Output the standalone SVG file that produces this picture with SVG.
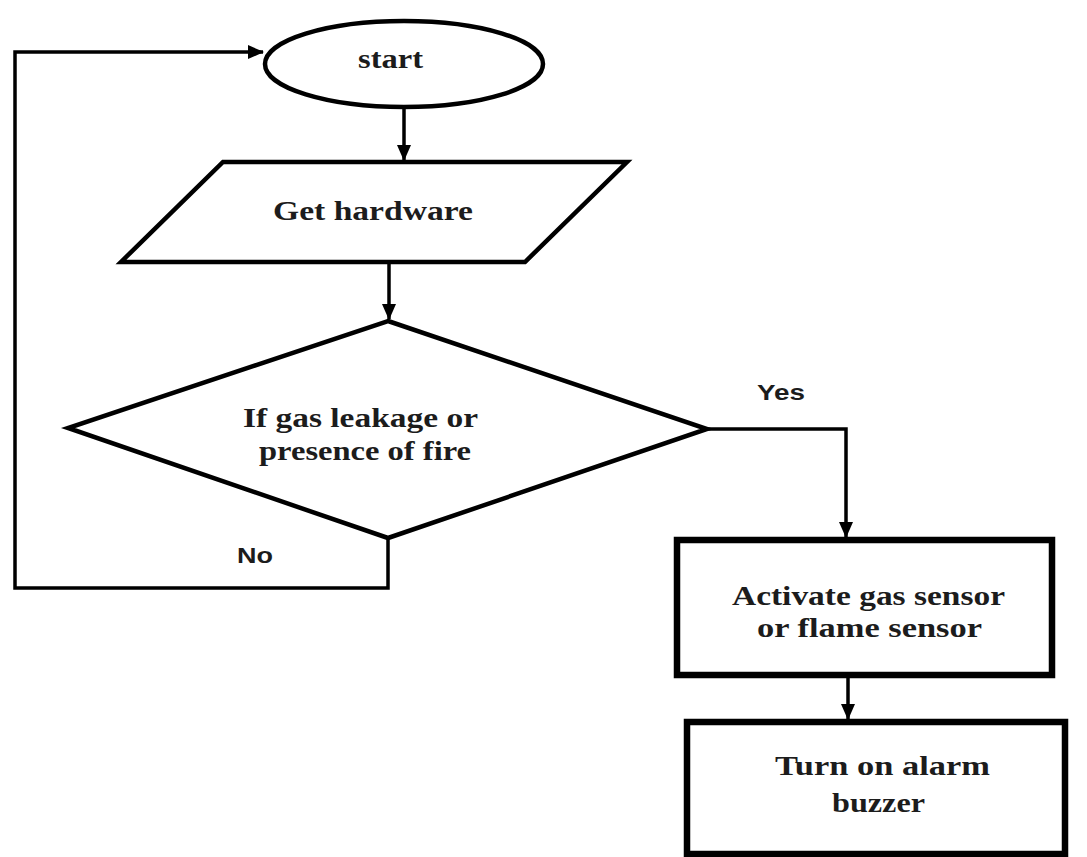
<svg xmlns="http://www.w3.org/2000/svg" width="1087" height="857" viewBox="0 0 1087 857">
<style>
.shape{fill:#fff;stroke:#000;stroke-width:4.5;stroke-linejoin:miter}
.box{fill:#fff;stroke:#000;stroke-width:6.5}
.conn{fill:none;stroke:#000;stroke-width:3.5}
.lbl{font-family:"Liberation Serif","Times New Roman",serif;font-weight:bold;font-size:27px;fill:#1c1c1c}
.yn{font-family:"Liberation Sans",Arial,sans-serif;font-weight:bold;font-size:22px;fill:#1c1c1c}
</style>
<defs>
<marker id="arr" markerUnits="userSpaceOnUse" markerWidth="16" markerHeight="16" viewBox="0 0 16 16" refX="15" refY="8" orient="auto">
<path d="M0,1 L16,8 L0,15 Z" fill="#000"/>
</marker>
</defs>
<rect width="1087" height="857" fill="#fff"/>
<g id="connectors">
<path class="conn" d="M404,107 L404,160" marker-end="url(#arr)"/>
<path class="conn" d="M389,262 L389,319" marker-end="url(#arr)"/>
<path class="conn" d="M707,429 L846,429 L846,537" marker-end="url(#arr)"/>
<path class="conn" d="M388,538 L388,588 L15,588 L15,52 L263,52" marker-end="url(#arr)"/>
<path class="conn" d="M848,675 L848,719" marker-end="url(#arr)"/>
<text class="yn" x="757" y="400" textLength="48" lengthAdjust="spacingAndGlyphs">Yes</text>
<text class="yn" x="237" y="563" textLength="36" lengthAdjust="spacingAndGlyphs">No</text>
</g>
<g id="start">
<ellipse class="shape" cx="404" cy="64" rx="139" ry="43"/>
<text class="lbl" x="358" y="68" font-size="25" textLength="65" lengthAdjust="spacingAndGlyphs">start</text>
</g>
<g id="get-hardware">
<polygon class="shape" points="223,162 627,162 525,262 121,262"/>
<text class="lbl" x="273" y="220" textLength="200" lengthAdjust="spacingAndGlyphs">Get hardware</text>
</g>
<g id="decision">
<polygon class="shape" points="388,321 707,429 388,538 68,428"/>
<text class="lbl" x="243" y="427" textLength="235" lengthAdjust="spacingAndGlyphs">If gas leakage or</text>
<text class="lbl" x="259" y="460" textLength="212" lengthAdjust="spacingAndGlyphs">presence of fire</text>
</g>
<g id="activate">
<rect class="box" x="677" y="540" width="375" height="135"/>
<text class="lbl" x="732" y="605" textLength="273" lengthAdjust="spacingAndGlyphs">Activate gas sensor</text>
<text class="lbl" x="757" y="637" textLength="225" lengthAdjust="spacingAndGlyphs">or flame sensor</text>
</g>
<g id="alarm">
<rect class="box" x="687" y="722" width="378" height="132"/>
<text class="lbl" x="775" y="775" textLength="215" lengthAdjust="spacingAndGlyphs">Turn on alarm</text>
<text class="lbl" x="832" y="812" textLength="93" lengthAdjust="spacingAndGlyphs">buzzer</text>
</g>
</svg>
